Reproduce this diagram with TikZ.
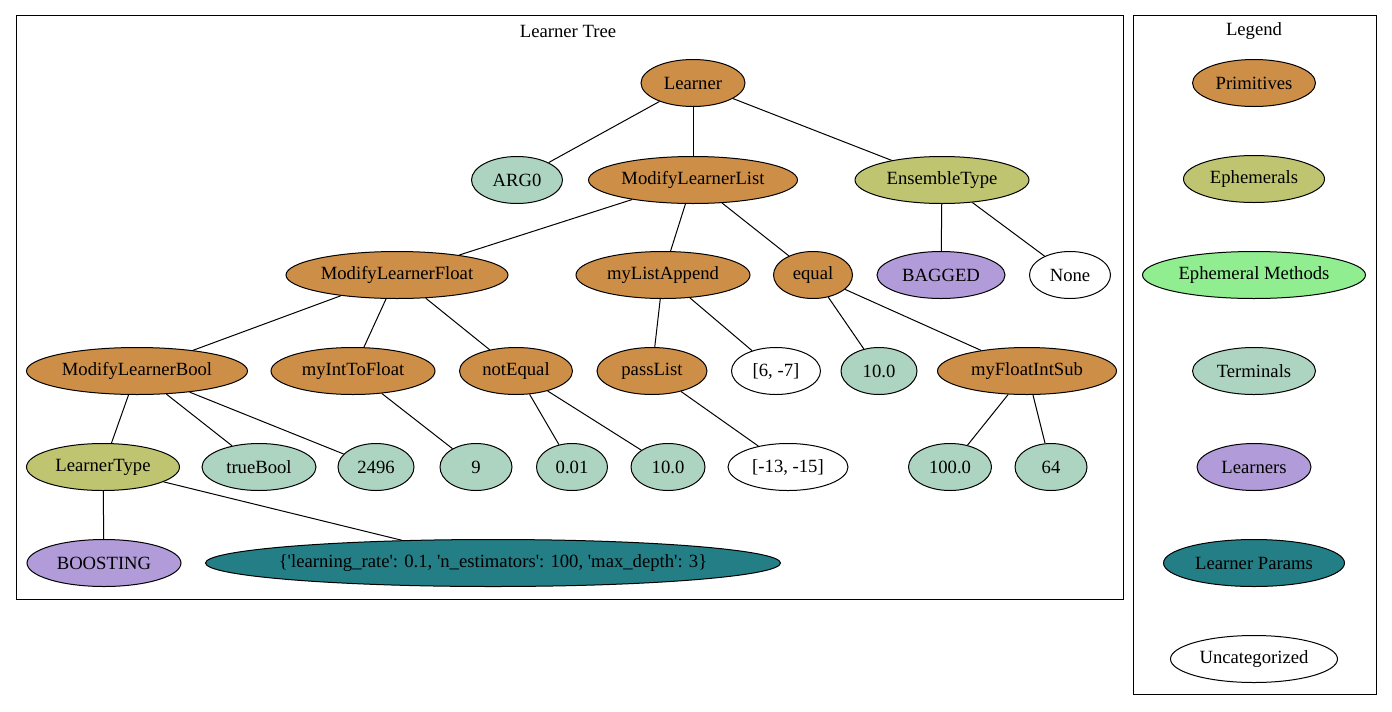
\documentclass[tikz,border=0pt]{standalone}
\usepackage{fontspec}
\setmainfont{Liberation Serif}
\usetikzlibrary{shapes.geometric}
\definecolor{primc}{RGB}{205,142,72}
\definecolor{ephc}{RGB}{191,196,112}
\definecolor{ephmc}{RGB}{144,238,144}
\definecolor{termc}{RGB}{173,212,193}
\definecolor{lrnc}{RGB}{177,155,217}
\definecolor{lparc}{RGB}{36,126,133}
\newcommand{\sq}{\textquotesingle}
\begin{document}
\begin{tikzpicture}[x=0.75pt,y=-0.75pt,line width=0.75pt,
  every node/.style={font=\rmfamily\fontsize{14}{16}\selectfont},
  tn/.style={draw,ellipse,inner sep=0pt,minimum height=35.25pt},
  nw/.style={minimum width=#1*0.75pt},
  prim/.style={tn,fill=primc},
  eph/.style={tn,fill=ephc},
  ephm/.style={tn,fill=ephmc},
  term/.style={tn,fill=termc},
  lrn/.style={tn,fill=lrnc},
  lpar/.style={tn,fill=lparc},
  unc/.style={tn,fill=white}]
\useasboundingbox (0,0) rectangle (1392,711);
% clusters
\draw (16,15) rectangle (1123,599);
\node (treetitle) at (568,31) {Learner Tree};
\draw (1133,15) rectangle (1376,694);
\node (legtitle) at (1254,31) {Legend};
% tree
\node[prim,nw=104] (learner) at (693,83) {Learner};
\node[term,nw=91] (arg0) at (517,180) {ARG0};
\node[prim,nw=209] (mll) at (693,180) {ModifyLearnerList};
\node[eph,nw=174] (enstype) at (942,180) {EnsembleType};
\node[prim,nw=222] (mlf) at (397,275) {ModifyLearnerFloat};
\node[prim,nw=174] (listapp) at (663,275) {myListAppend};
\node[prim,nw=79] (equal) at (813,275) {equal};
\node[lrn,nw=128] (bagged) at (941,275) {BAGGED};
\node[unc,nw=81] (none) at (1070,275) {None};
\node[prim,nw=221] (mlb) at (137,371) {ModifyLearnerBool};
\node[prim,nw=164] (inttofloat) at (353,371) {myIntToFloat};
\node[prim,nw=113] (noteq) at (516,371) {notEqual};
\node[prim,nw=110] (passlist) at (652,371) {passList};
\node[unc,nw=89] (lista) at (776,371) {[6, -7]};
\node[term,nw=76] (tena) at (879,371) {10.0};
\node[prim,nw=179] (floatsub) at (1027,371) {myFloatIntSub};
\node[eph,nw=153] (ltype) at (103,467) {LearnerType};
\node[term,nw=114] (truebool) at (259,467) {trueBool};
\node[term,nw=76] (nfour) at (376,467) {2496};
\node[term,nw=72] (nine) at (476,467) {9};
\node[term,nw=71] (small) at (572,467) {0.01};
\node[term,nw=74] (tenb) at (668,467) {10.0};
\node[unc,nw=120] (listb) at (788,467) {[-13, -15]};
\node[term,nw=83] (hundred) at (950,467) {100.0};
\node[term,nw=72] (sixtyfour) at (1051,467) {64};
\node[lrn,nw=154] (boosting) at (104,563) {BOOSTING};
\node[lpar,nw=575,inner xsep=-10pt] (params) at (493,563) {\{\sq learning\_rate\sq: 0.1, \sq n\_estimators\sq: 100, \sq max\_depth\sq: 3\}};
% edges
\draw (learner) -- (arg0);
\draw (learner) -- (mll);
\draw (learner) -- (enstype);
\draw (mll) -- (mlf);
\draw (mll) -- (listapp);
\draw (mll) -- (equal);
\draw (enstype) -- (bagged);
\draw (enstype) -- (none);
\draw (mlf) -- (mlb);
\draw (mlf) -- (inttofloat);
\draw (mlf) -- (noteq);
\draw (listapp) -- (passlist);
\draw (listapp) -- (lista);
\draw (equal) -- (tena);
\draw (equal) -- (floatsub);
\draw (mlb) -- (ltype);
\draw (mlb) -- (truebool);
\draw (mlb) -- (nfour);
\draw (inttofloat) -- (nine);
\draw (noteq) -- (small);
\draw (noteq) -- (tenb);
\draw (passlist) -- (listb);
\draw (floatsub) -- (hundred);
\draw (floatsub) -- (sixtyfour);
\draw (ltype) -- (boosting);
\draw (ltype) -- (params.166);
% legend
\node[prim,nw=123] (lgprim) at (1254,83) {Primitives};
\node[eph,nw=141] (lgeph) at (1254,179) {Ephemerals};
\node[ephm,nw=223] (lgephm) at (1254,275) {Ephemeral Methods};
\node[term,nw=123] (lgterm) at (1254,371) {Terminals};
\node[lrn,nw=114] (lglrn) at (1254,467) {Learners};
\node[lpar,nw=181] (lgpar) at (1254,563) {Learner Params};
\node[unc,nw=167] (lgunc) at (1254,659) {Uncategorized};
\end{tikzpicture}
\end{document}
